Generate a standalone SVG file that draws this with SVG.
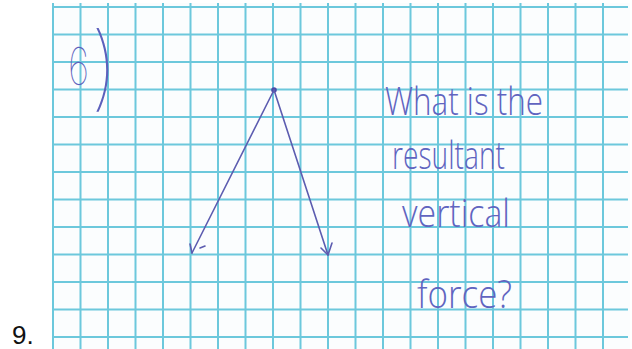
<svg xmlns="http://www.w3.org/2000/svg" width="632" height="349" viewBox="0 0 632 349">
<style>
.grid{stroke:#6cc8dc;stroke-width:2;fill:none}
.pen{stroke:#5c5cb0;stroke-width:1.6;fill:none;stroke-linecap:round;stroke-linejoin:round}
.hw{font-family:"Open Sans","Liberation Sans",sans-serif;font-weight:300;fill:#6064c0}
.thin{font-family:Inter,"Open Sans",sans-serif;font-weight:100;fill:#5c60bc}
</style>
<rect width="632" height="349" fill="#ffffff"/>
<g id="paper">
<rect x="53" y="3" width="577" height="346" fill="#fbfdfe"/>
<path class="grid" d="M53 3V349M80.5 3V349M108 3V349M135.5 3V349M163 3V349M190.5 3V349M218 3V349M245.5 3V349M273 3V349M300.5 3V349M328 3V349M355.5 3V349M383 3V349M410.5 3V349M438 3V349M465.5 3V349M493 3V349M520.5 3V349M548 3V349M575.5 3V349M603 3V349"/>
<path class="grid" d="M53 7H628M53 34.5H628M53 62H628M53 89.5H628M53 117H628M53 144.5H628M53 172H628M53 199.5H628M53 227H628M53 254.5H628M53 282H628M53 309.5H628M53 337H628"/>
</g>
<g id="label-number">
<text x="12" y="344" font-family="'Liberation Sans',sans-serif" font-size="26" fill="#111">9.</text>
</g>
<g id="part-label">
<text class="thin" font-size="52" transform="translate(68,85) scale(0.72,1)">6</text>
<text class="thin" x="90" y="99" font-size="92">)</text>
</g>
<g id="connectors">
<circle cx="274" cy="90" r="2.8" fill="#4a4aa8"/>
<path class="pen" d="M274 90L192 253"/>
<path class="pen" d="M190 244L192 253M200 248L205 246"/>
<path class="pen" d="M274 90L328 255"/>
<path class="pen" d="M321 248L328 255L332 243"/>
</g>
<g id="question">
<text class="hw" x="385" y="115" font-size="38" textLength="158" lengthAdjust="spacingAndGlyphs">What is the</text>
<text class="hw" x="392" y="169" font-size="38" textLength="113" lengthAdjust="spacingAndGlyphs">resultant</text>
<text class="hw" x="402" y="227" font-size="38" textLength="108" lengthAdjust="spacingAndGlyphs">vertical</text>
<text class="hw" x="417" y="308" font-size="38" textLength="95" lengthAdjust="spacingAndGlyphs">force?</text>
</g>
</svg>
